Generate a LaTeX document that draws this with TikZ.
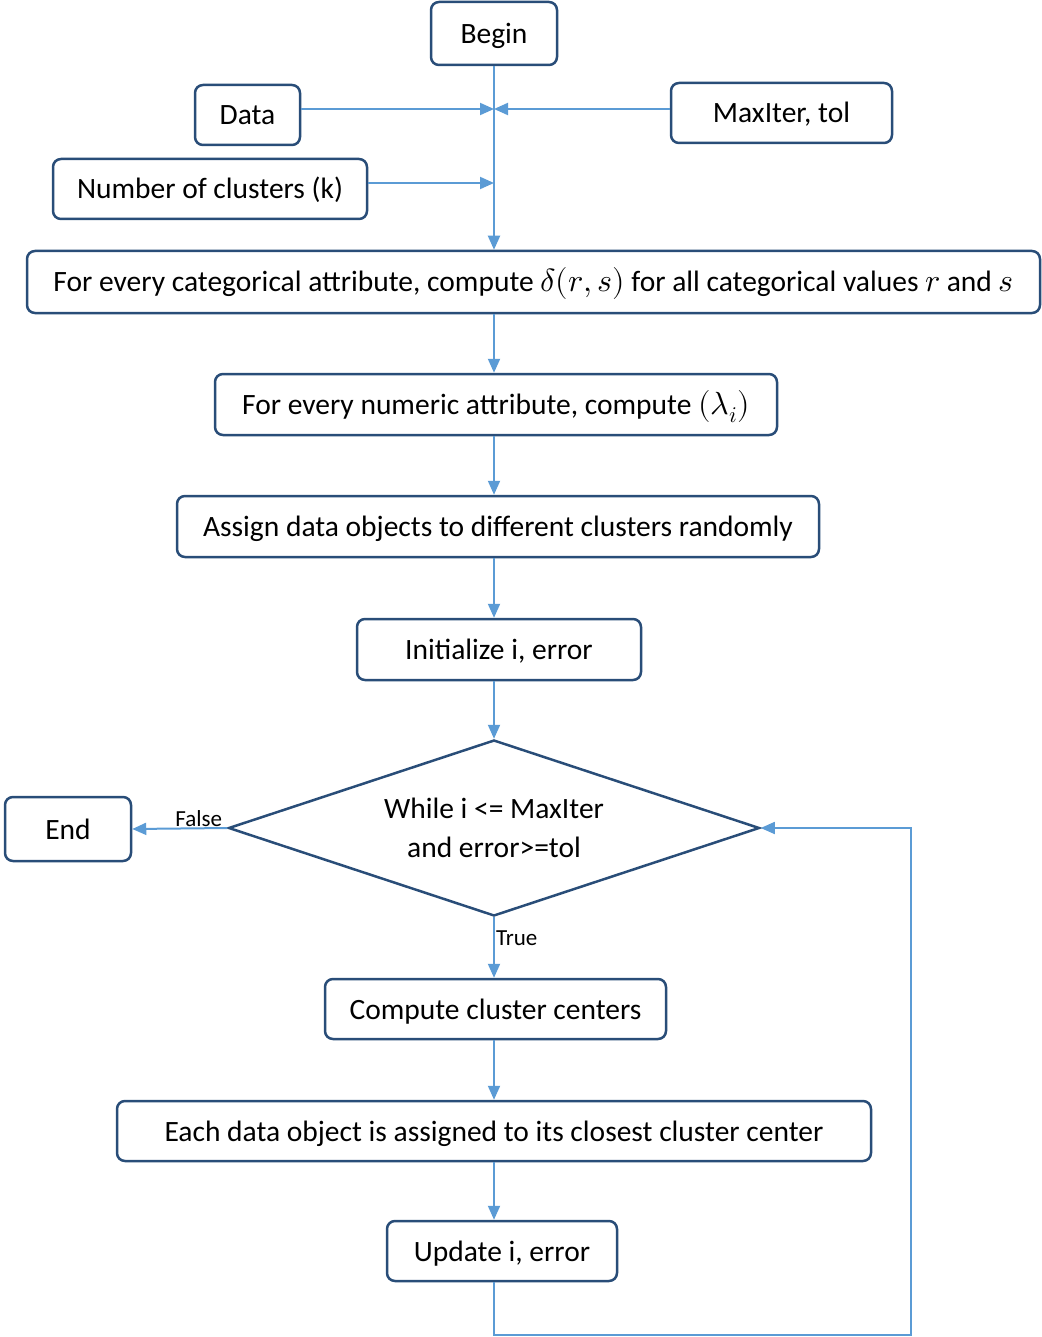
\documentclass[tikz,border=0pt]{standalone}
\usepackage{fontspec}
\usepackage{unicode-math}
\setmainfont{Carlito}
\setmathfont{Latin Modern Math}
\usetikzlibrary{arrows.meta,shapes.geometric}

\definecolor{boxline}{RGB}{41,77,120}
\definecolor{flowline}{RGB}{91,155,213}
\newcommand\bigmath[1]{{\fontsize{32}{36}\selectfont$#1$}}

\begin{document}
\begin{tikzpicture}[x=1pt,y=-1pt,
  box/.style={draw=boxline,line width=2.5pt,rounded corners=8pt,fill=white,
    inner sep=0pt,text height=26pt,text depth=6pt,font=\fontsize{29.5}{35}\selectfont},
  test/.style={draw=boxline,line width=2.5pt,shape=diamond,aspect=3,inner sep=0pt,
    align=center,font=\fontsize{29.5}{35}\selectfont},
  flow/.style={draw=flowline,line width=2pt,-{Triangle[length=14pt,width=12pt]}},
  lbl/.style={font=\fontsize{23}{27}\selectfont,inner sep=1pt}]
  \useasboundingbox (0,0) rectangle (1041,1337);

  \node[box,minimum width=126,minimum height=63] (begin) at (494,33.5) {Begin};
  \node[box,minimum width=105,minimum height=60] (data) at (247.5,115) {Data};
  \node[box,minimum width=221,minimum height=60] (maxit) at (781.5,113) {MaxIter, tol};
  \node[box,minimum width=314,minimum height=60] (ncl) at (210,189) {Number of clusters (k)};
  \node[box,minimum width=1013,minimum height=62] (cat) at (533.5,282)
    {For every categorical attribute, compute \bigmath{\delta(r,s)} for all categorical values \bigmath{r} and \bigmath{s}};
  \node[box,minimum width=562,minimum height=61] (num) at (496,404.5)
    {For every numeric attribute, compute \bigmath{(\lambda_i)}};
  \node[box,minimum width=642,minimum height=61] (asg) at (498,526.5)
    {Assign data objects to different clusters randomly};
  \node[box,minimum width=284,minimum height=61] (init) at (499,649.5) {Initialize i, error};
  \node[test,minimum width=531,minimum height=176] (cond) at (494,828)
    {While i <= MaxIter\\[4pt]and error>=tol};
  \node[box,minimum width=126,minimum height=64] (stop) at (68,829) {End};
  \node[box,minimum width=341,minimum height=60] (comp) at (495.5,1009) {Compute cluster centers};
  \node[box,minimum width=754,minimum height=60] (each) at (494,1131)
    {Each data object is assigned to its closest cluster center};
  \node[box,minimum width=230,minimum height=60] (upd) at (502,1251) {Update i, error};

  \coordinate (j1) at (494,109);
  \coordinate (j2) at (494,183);
  \coordinate (lp) at (911,1335);

  \draw[flow] (begin) -- (begin |- cat.north);
  \draw[flow] (data.east |- j1) -- (j1);
  \draw[flow] (maxit.west |- j1) -- (j1);
  \draw[flow] (ncl.east |- j2) -- (j2);
  \draw[flow] (begin |- cat.south) -- (begin |- num.north);
  \draw[flow] (begin |- num.south) -- (begin |- asg.north);
  \draw[flow] (begin |- asg.south) -- (begin |- init.north);
  \draw[flow] (begin |- init.south) -- (cond.north);
  \draw[flow] (cond.west) -- node[lbl,above,pos=0.3] {False} (stop.east);
  \draw[flow] (cond.south) -- node[lbl,anchor=west,pos=0.35] {True} (cond |- comp.north);
  \draw[flow] (cond |- comp.south) -- (cond |- each.north);
  \draw[flow] (cond |- each.south) -- (cond |- upd.north);
  \draw[flow,line width=1.6pt] (cond |- upd.south) |- (lp) |- (cond.east);
\end{tikzpicture}
\end{document}
